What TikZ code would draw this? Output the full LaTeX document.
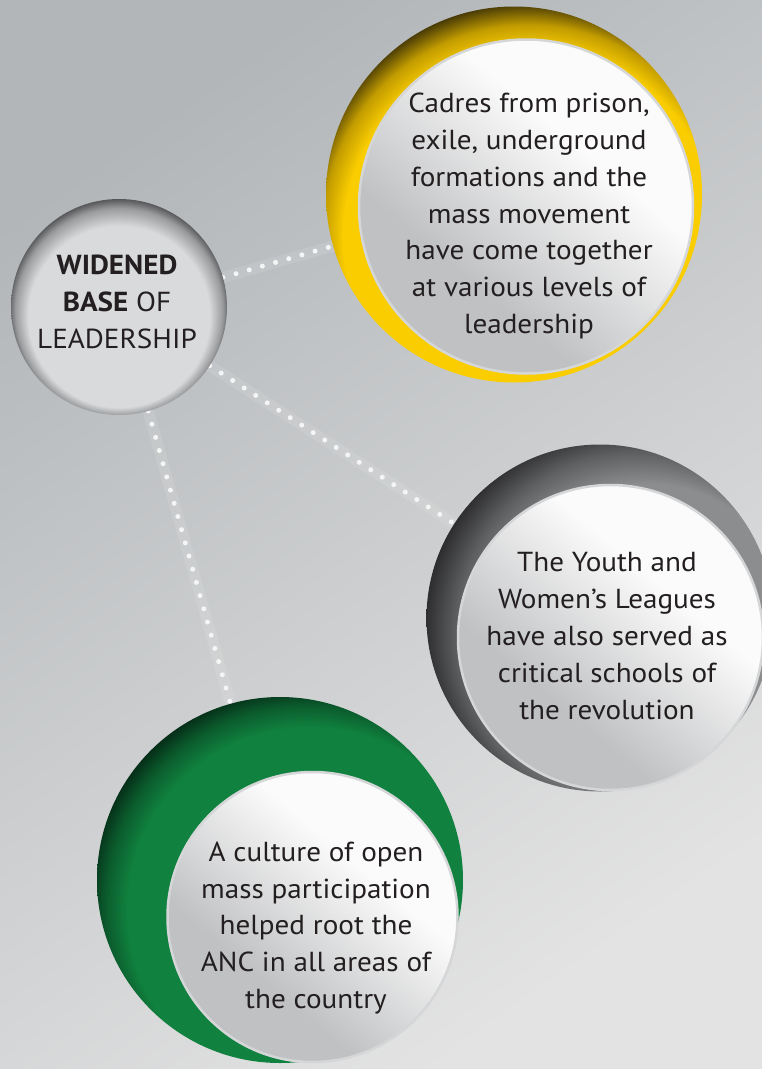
\documentclass[tikz,border=0pt]{standalone}
\usepackage{fontspec}
\setmainfont{PT Sans}[FakeStretch=1.06]
\definecolor{bgA}{HTML}{B2B6B9}
\definecolor{bgB}{HTML}{E3E3E3}
\definecolor{ybright}{HTML}{FACD00}
\definecolor{ymid}{HTML}{C29C00}
\definecolor{ydark}{HTML}{4A3C06}
\definecolor{gbright}{HTML}{8C8D8F}
\definecolor{gmid}{HTML}{5E5F61}
\definecolor{gdark}{HTML}{2A2A2C}
\definecolor{nbright}{HTML}{10813E}
\definecolor{nmid}{HTML}{0B5C2D}
\definecolor{ndark}{HTML}{052C17}
\definecolor{igray}{HTML}{C0C1C3}
\definecolor{iwhite}{HTML}{FBFBFB}
\definecolor{sface}{HTML}{D9DADC}
\definecolor{smid}{HTML}{9A9B9D}
\definecolor{sdark}{HTML}{2E2E30}
\definecolor{txt}{HTML}{231F20}
\definecolor{rim}{HTML}{D5D6D8}
\pgfdeclareradialshading{yring}{\pgfpoint{6bp}{-15bp}}{color(0bp)=(ybright); color(25bp)=(ybright); color(27.3bp)=(ymid); color(29.3bp)=(ydark); color(40bp)=(ydark)}
\pgfdeclareradialshading{gring}{\pgfpoint{15bp}{-6bp}}{color(0bp)=(gbright); color(22bp)=(gbright); color(26bp)=(gmid); color(29.5bp)=(gdark); color(40bp)=(gdark)}
\pgfdeclareradialshading{nring}{\pgfpoint{11bp}{-11bp}}{color(0bp)=(nbright); color(25bp)=(nbright); color(27.3bp)=(nmid); color(29.3bp)=(ndark); color(40bp)=(ndark)}
\pgfdeclareverticalshading{innersh}{100bp}{color(0bp)=(igray); color(36bp)=(igray); color(62bp)=(iwhite); color(100bp)=(iwhite)}
\pgfdeclareradialshading{smallsh}{\pgfpoint{0bp}{-10bp}}{color(0bp)=(sface); color(21bp)=(sface); color(24bp)=(smid); color(26.5bp)=(sdark); color(27bp)=(sdark)}
\tikzset{
  ringnode/.style={circle, inner sep=0pt, outer sep=0pt, shade, shading=#1},
  innerdisc/.style={circle, inner sep=0pt, outer sep=0pt, shade, shading=innersh, shading angle=-40, draw=rim, line width=2.5pt},
  bodytext/.style={align=center, text=txt, font=\fontsize{27.5}{36.8}\selectfont},
  dotline/.style={draw=white!92!gray, line width=5pt, line cap=round, dash pattern=on 0pt off 13.7pt},
  dotglow/.style={draw=white, opacity=0.1, line width=11pt}
}
\begin{document}
\begin{tikzpicture}[x=1pt, y=-1pt]
\useasboundingbox (0,0) rectangle (762,1069);
\shade[top color=bgA, bottom color=bgB, shading angle=35] (0,0) rectangle (762,1069);
% circles (as named nodes)
\node[circle, minimum size=216pt, inner sep=0pt, outer sep=0pt] (small) at (119,307) {};
\node[ringnode=yring, minimum size=376pt] (yout) at (514,194.5) {};
\node[ringnode=gring, minimum size=347pt] (gout) at (600,618) {};
\node[ringnode=nring, minimum size=366pt] (nout) at (280,880) {};
% connectors
\foreach \t in {yout,gout,nout}{
  \draw[dotglow] (small) -- (\t);
  \draw[dotline] (small) -- (\t);
}
\node[circle, minimum size=216pt, inner sep=0pt, outer sep=0pt, shade, shading=smallsh] (smallface) at (119,307) {};
\node[innerdisc, minimum size=334pt] (yin) at (526,206.5) {};
\node[innerdisc, minimum size=305pt] (gin) at (610.5,637.5) {};
\node[innerdisc, minimum size=290pt] (nin) at (312.5,917) {};
% texts
\node[align=center, text=txt, font=\fontsize{27.5}{37}\selectfont] (stext) at (117,302) {\textbf{WIDENED}\\\textbf{BASE} OF\\LEADERSHIP};
\node[bodytext] (ytext) at (529,216) {Cadres from prison,\\exile, underground\\formations and the\\mass movement\\have come together\\at various levels of\\leadership};
\node[bodytext] (gtext) at (607,636) {The Youth and\\Women’s Leagues\\have also served as\\critical schools of\\the revolution};
\node[bodytext] (ntext) at (316,928) {A culture of open\\mass participation\\helped root the\\ANC in all areas of\\the country};
\end{tikzpicture}
\end{document}
